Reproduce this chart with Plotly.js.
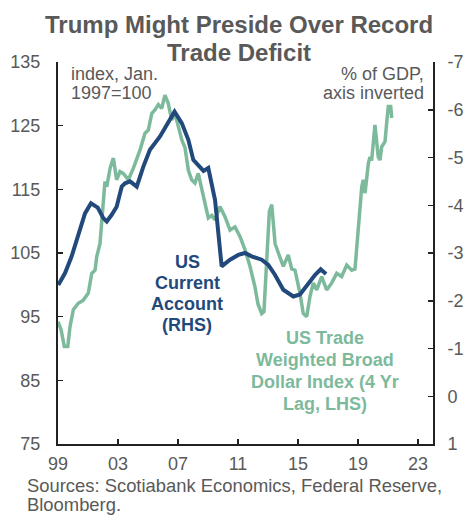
<!DOCTYPE html>
<html>
<head>
<meta charset="utf-8">
<script src="https://cdn.plot.ly/plotly-3.0.1.min.js"></script>
<style>html,body{margin:0;padding:0;background:#fff;}#chart{width:466px;height:515px;}</style>
</head>
<body>
<div id="chart"></div>
<script>
// Data
const titleLines = ["Trump Might Preside Over Record", "Trade Deficit"];
const tickYears = [1999, 2003, 2007, 2011, 2015, 2019, 2023];
const tickLabels = ["99", "03", "07", "11", "15", "19", "23"];
const leftTicks = [75, 85, 95, 105, 115, 125, 135];
const rightTicks = [-7, -6, -5, -4, -3, -2, -1, 0, 1];
const rightTickLabels = ["-7", "-6", "-5", "-4", "-3", "-2", "-1", "0", "1"];
const leftNote = ["index, Jan.", "1997=100"];
const rightNote = ["% of GDP,", "axis inverted"];
const caLabel = ["US", "Current", "Account", "(RHS)"];
const usdLabel = ["US Trade", "Weighted Broad", "Dollar Index (4 Yr", "Lag, LHS)"];
const sourceLines = ["Sources: Scotiabank Economics, Federal Reserve,", "Bloomberg."];

// US current account, % of GDP (RHS, inverted)
const caYears = [1999.02, 1999.47, 1999.91, 2000.35, 2000.8, 2001.2, 2001.65, 2002.02, 2002.25, 2002.58, 2002.91,
  2003.25, 2003.47, 2003.8, 2004.25, 2004.69, 2005.13, 2005.8, 2006.35, 2006.77, 2007.25, 2007.69, 2008.02,
  2008.47, 2008.7, 2009.02, 2009.47, 2009.91, 2010.47, 2011.02, 2011.47, 2011.91, 2012.58, 2013.02, 2013.47,
  2014.02, 2014.69, 2015.13, 2015.58, 2016.13, 2016.51, 2016.87];
const caValues = [-2.33, -2.58, -2.93, -3.35, -3.83, -4.04, -3.95, -3.73, -3.66, -3.80, -3.97,
  -4.39, -4.46, -4.50, -4.39, -4.81, -5.16, -5.44, -5.72, -5.96, -5.72, -5.37, -4.95,
  -4.78, -4.72, -4.78, -4.11, -2.72, -2.86, -2.96, -3.00, -2.93, -2.86, -2.75, -2.54,
  -2.23, -2.09, -2.13, -2.33, -2.54, -2.66, -2.56];

// US trade weighted broad dollar index, 4 yr lag (LHS)
const usdYears = [1999.0, 1999.2, 1999.42, 1999.65, 1999.8, 2000.02, 2000.35, 2000.69, 2001.02, 2001.25, 2001.47,
  2001.58, 2001.8, 2001.91, 2002.02, 2002.13, 2002.25, 2002.47, 2002.69, 2002.91, 2003.13, 2003.35, 2003.69,
  2004.02, 2004.47, 2004.8, 2005.02, 2005.25, 2005.47, 2005.69, 2005.91, 2006.13, 2006.35, 2006.58, 2006.8,
  2007.02, 2007.25, 2007.47, 2007.69, 2007.91, 2008.13, 2008.35, 2008.69, 2009.02, 2009.25, 2009.47, 2009.8,
  2010.13, 2010.47, 2010.8, 2011.13, 2011.47, 2011.8, 2012.13, 2012.33, 2012.58, 2012.73, 2012.9, 2013.09,
  2013.25, 2013.35, 2013.47, 2013.69, 2014.02, 2014.35, 2014.58, 2014.8, 2015.13, 2015.35, 2015.58, 2015.8,
  2016.02, 2016.25, 2016.58, 2016.91, 2017.25, 2017.58, 2017.91, 2018.25, 2018.58, 2018.8, 2019.02, 2019.25,
  2019.35, 2019.47, 2019.69, 2019.8, 2019.91, 2020.13, 2020.35, 2020.47, 2020.58, 2020.8, 2020.91, 2021.02,
  2021.18, 2021.25];
const usdValues = [94.2, 93.0, 90.3, 90.3, 93.4, 96.1, 97.1, 97.6, 98.7, 101.8, 102.3,
  104.4, 106.5, 110.2, 113.3, 116.2, 115.4, 118.3, 119.9, 116.5, 117.8, 117.5, 116.5,
  118.3, 121.2, 123.8, 124.3, 126.9, 127.5, 128.3, 127.7, 129.8, 128.5, 125.9, 126.9,
  124.8, 122.8, 121.5, 118.0, 116.5, 116.0, 117.5, 113.9, 110.5, 110.9, 110.2, 112.3,
  110.7, 108.6, 109.1, 107.6, 105.5, 102.9, 99.7, 97.0, 95.5, 95.8, 104.4, 111.5,
  112.6, 109.7, 106.5, 105.0, 102.9, 104.7, 102.5, 102.3, 98.7, 95.5, 95.0, 98.2,
  100.3, 99.2, 101.3, 99.2, 100.3, 101.8, 101.3, 103.1, 102.3, 102.5, 108.6, 115.4,
  116.5, 114.4, 119.1, 120.1, 119.5, 125.1, 120.1, 119.6, 121.7, 122.5, 125.4, 128.0,
  128.0, 126.2];

const grey = "#595959";
const blue = "#22497b";
const green = "#7dba9c";
const font = "Arial, 'Liberation Sans', sans-serif";

// plot area in pixels
const L = 58, R = 433, T = 62, B = 444;
const px = (x) => (x - L) / (R - L);
const py = (y) => (B - y) / (B - T);

const traces = [
  {x: usdYears, y: usdValues, type: "scatter", mode: "lines", line: {color: green, width: 3.5}, yaxis: "y", hoverinfo: "skip"},
  {x: caYears, y: caValues, type: "scatter", mode: "lines", line: {color: blue, width: 4}, yaxis: "y2", hoverinfo: "skip"}
];

const ann = (text, x, y, xanchor, size, color, bold) => ({
  text: bold ? "<b>" + text + "</b>" : text, xref: "paper", yref: "paper", x: px(x), y: py(y),
  showarrow: false, xanchor: xanchor, yanchor: "middle", borderpad: 0,
  font: {family: font, size: size, color: color}
});

const annotations = [];
titleLines.forEach((t, i) => annotations.push(ann(t, 239, 24 + i * 28, "center", 24, grey, true)));
leftNote.forEach((t, i) => annotations.push(ann(t, 70, 74 + i * 19, "left", 18, grey, false)));
rightNote.forEach((t, i) => annotations.push(ann(t, 425, 74 + i * 19, "right", 18, grey, false)));
caLabel.forEach((t, i) => annotations.push(ann(t, 187, 262 + i * 21, "center", 18, blue, true)));
usdLabel.forEach((t, i) => annotations.push(ann(t, 325, 338 + i * 22, "center", 18, green, true)));
sourceLines.forEach((t, i) => annotations.push(ann(t, 26, 485 + i * 19, "left", 18.4, grey, false)));

const layout = {
  width: 466, height: 515,
  margin: {l: L, r: 466 - R, t: T, b: 515 - B, pad: 0},
  paper_bgcolor: "#fff", plot_bgcolor: "#fff",
  showlegend: false,
  xaxis: {range: [1999, 2024], tickvals: tickYears, ticktext: tickLabels, ticks: "inside", ticklen: 5,
    tickwidth: 1.5, tickcolor: "#222", showline: true, linecolor: "#222", linewidth: 2, showgrid: false, zeroline: false,
    tickfont: {family: font, size: 18, color: grey}, ticklabelstandoff: 2, fixedrange: true},
  yaxis: {range: [75, 135], tickvals: leftTicks, ticks: "inside", ticklen: 5, tickwidth: 1.5, tickcolor: "#222",
    showline: true, linecolor: "#222", linewidth: 2, showgrid: false, zeroline: false,
    tickfont: {family: font, size: 18, color: grey}, ticklabelstandoff: 12, fixedrange: true},
  yaxis2: {range: [1, -7], overlaying: "y", side: "right", tickvals: rightTicks, ticktext: rightTickLabels,
    ticks: "inside", ticklen: 5,
    tickwidth: 1.5, tickcolor: "#222", showline: true, linecolor: "#222", linewidth: 2, showgrid: false,
    zeroline: false, tickfont: {family: font, size: 18, color: grey}, ticklabelstandoff: 9, fixedrange: true},
  annotations: annotations
};

Plotly.newPlot("chart", traces, layout, {displayModeBar: false, staticPlot: true});
</script>
</body>
</html>
